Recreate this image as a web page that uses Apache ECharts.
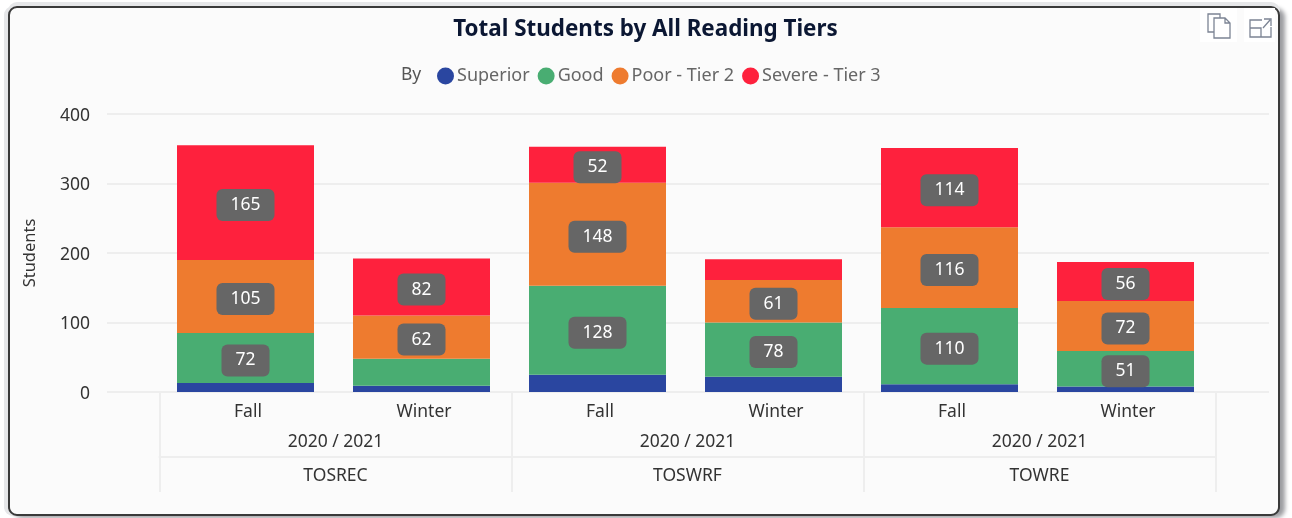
<!DOCTYPE html>
<html>
<head>
<meta charset="utf-8">
<title>Total Students by All Reading Tiers</title>
<script src="https://cdn.jsdelivr.net/npm/echarts@6/dist/echarts.min.js"></script>
<style>
  html, body { margin: 0; padding: 0; background: #fff; }
  #frame { position: absolute; left: 0; top: 0; width: 1292px; height: 518px; overflow: hidden; }
  #card {
    position: absolute; left: 8px; top: 6px; width: 1268px; height: 506px;
    background: #fbfbfb; border: 2px solid #3a3a3a; border-radius: 9px;
    box-shadow: 0 -4px 0 #e6e7e9, 5px 2px 4px #9c9da1, -4px 0 0 #e6e7e9;
  }
  #main { position: absolute; left: 0; top: 0; width: 1292px; height: 518px; }
  .iconBtn { position: absolute; top: 8px; height: 34px; background: #fff; }
  .iconBtn svg { display: block; }
  .iconBtn path { fill: none; stroke: #7c8494; stroke-width: 1.3; }
</style>
</head>
<body>
<div id="frame">
  <div id="card"></div>
  <div id="main"></div>
  <div class="iconBtn" style="left: 1200px; width: 37px">
    <svg width="37" height="34"><path d="M14 24 H8 V6 H20 V10 M14 10 H25 L30 15 V30 H14 Z M25 10 V15 H30"/></svg>
  </div>
  <div class="iconBtn" style="left: 1244px; width: 31px">
    <svg width="31" height="34"><path d="M18 12 H6 V29 H27 V19 M6 20 H17 V29 M19 20 L26 12 M20 11 H27 V18"/></svg>
  </div>
</div>
<script>
const seasons = ['Fall', 'Winter', 'Fall', 'Winter', 'Fall', 'Winter']
const years = ['2020 / 2021', '2020 / 2021', '2020 / 2021']
const tests = ['TOSREC', 'TOSWRF', 'TOWRE']

const superior = [13, 9, 25, 22, 11, 8]
const good = [72, 39, 128, 78, 110, 51]
const poor = [105, 62, 148, 61, 116, 72]
const severe = [165, 82, 52, 30, 114, 56]

const tierNames = ['Superior', 'Good', 'Poor - Tier 2', 'Severe - Tier 3']
const tierColors = ['#2a46a0', '#49ad72', '#ee7b2f', '#fe213d']

const font = '"Noto Sans", sans-serif'
const textColor = '#333333'
const lineColor = '#eeeeee'

// small segments carry no badge in the original
const minLabelled = 50

const makeSeries = (name, values, color) => ({
  name,
  type: 'bar',
  stack: 'tiers',
  xAxisIndex: 1,
  yAxisIndex: 1,
  barWidth: 137,
  itemStyle: { color },
  label: {
    position: 'inside',
    offset: [0, 2.5],
    color: '#ffffff',
    fontFamily: font,
    fontSize: 17.5,
    backgroundColor: '#666666',
    borderRadius: 6,
    padding: [8, 14, 6, 14]
  },
  data: values.map(v => ({ value: v, label: { show: v >= minLabelled } }))
})

const myChart = echarts.init(document.getElementById('main'), null, { renderer: 'canvas' })

const option = {
  animation: false,
  backgroundColor: 'transparent',
  title: {
    text: 'Total Students by All Reading Tiers',
    left: 640.5,
    top: 14,
    textAlign: 'center',
    textStyle: { color: '#0b1733', fontFamily: font, fontSize: 22.4, fontWeight: 'bold' }
  },
  legend: {
    left: 432,
    top: 62,
    icon: 'circle',
    itemWidth: 17,
    itemHeight: 17,
    itemGap: 8,
    selectedMode: false,
    textStyle: { color: '#666666', fontFamily: font, fontSize: 18, padding: [0, 0, 0, -2] },
    data: tierNames
  },
  grid: [
    { left: 107, top: 114, width: 1162, height: 278 },
    { left: 157.5, top: 114, width: 1056, height: 278 },
    { left: 159.5, top: 114, width: 1056, height: 278 }
  ],
  xAxis: [
    { gridIndex: 0, type: 'value', show: false },
    {
      gridIndex: 1,
      type: 'category',
      data: seasons,
      axisLine: { show: false },
      axisTick: { show: false },
      axisLabel: { interval: 0, margin: 11, padding: [0, 0, 0, 5], color: textColor, fontFamily: font, fontSize: 17.5 }
    },
    {
      gridIndex: 2,
      type: 'category',
      position: 'bottom',
      data: years,
      axisLine: { show: false },
      axisTick: { show: true, length: 100, lineStyle: { color: lineColor, width: 2 } },
      axisLabel: { interval: 0, margin: 41, color: textColor, fontFamily: font, fontSize: 17.5 }
    },
    {
      gridIndex: 2,
      type: 'category',
      position: 'bottom',
      offset: 65,
      data: tests,
      axisLine: { show: true, lineStyle: { color: lineColor, width: 2 } },
      axisTick: { show: false },
      axisLabel: { interval: 0, margin: 10, color: textColor, fontFamily: font, fontSize: 17.5 }
    }
  ],
  yAxis: [
    {
      gridIndex: 0,
      type: 'value',
      min: 0,
      max: 400,
      interval: 100,
      name: 'Students',
      nameLocation: 'middle',
      nameGap: 68,
      nameTextStyle: { color: textColor, fontFamily: font, fontSize: 16.5 },
      axisLine: { show: false },
      axisTick: { show: false },
      axisLabel: { margin: 17, verticalAlign: 'top', padding: [-7, 0, 0, 0], color: textColor, fontFamily: font, fontSize: 17.5 },
      splitLine: { show: true, lineStyle: { color: lineColor, width: 2 } }
    },
    { gridIndex: 1, type: 'value', min: 0, max: 400, show: false, splitLine: { show: false } },
    { gridIndex: 2, type: 'value', min: 0, max: 400, show: false, splitLine: { show: false } }
  ],
  series: [
    makeSeries(tierNames[0], superior, tierColors[0]),
    makeSeries(tierNames[1], good, tierColors[1]),
    makeSeries(tierNames[2], poor, tierColors[2]),
    makeSeries(tierNames[3], severe, tierColors[3])
  ],
  graphic: [
    // "By" in front of the legend
    { type: 'text', left: 401, top: 66, style: { text: 'By', fill: '#555555', font: '17.5px ' + font } }
  ]
}

myChart.setOption(option)
</script>
</body>
</html>
